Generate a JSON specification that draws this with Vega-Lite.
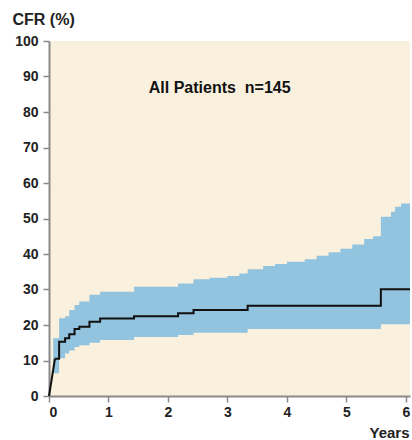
{
  "$schema": "https://vega.github.io/schema/vega-lite/v6.json",
  "width": 361,
  "height": 355,
  "autosize": "none",
  "padding": {"left": 49, "top": 41, "right": 2, "bottom": 44},
  "background": "white",
  "config": {
    "view": {"fill": "#f9f1de", "stroke": null},
    "font": "Liberation Sans"
  },
  "datasets": {
    "band": [
      {"t": 0.07, "lo": 6.4, "v": 16.3},
      {"t": 0.17, "lo": 10.6, "v": 21.9},
      {"t": 0.27, "lo": 12.0, "v": 22.5},
      {"t": 0.34, "lo": 12.8, "v": 24.2},
      {"t": 0.43, "lo": 13.8, "v": 25.6},
      {"t": 0.51, "lo": 14.3, "v": 26.6},
      {"t": 0.68, "lo": 15.0, "v": 28.5},
      {"t": 0.86, "lo": 15.8, "v": 29.4},
      {"t": 1.43, "lo": 16.6, "v": 30.8},
      {"t": 2.17, "lo": 17.2, "v": 31.7},
      {"t": 2.43, "lo": 17.8, "v": 32.9},
      {"t": 2.7, "lo": 17.8, "v": 33.3},
      {"t": 3.0, "lo": 17.8, "v": 33.8},
      {"t": 3.2, "lo": 17.8, "v": 34.5},
      {"t": 3.34, "lo": 18.9, "v": 35.7},
      {"t": 3.6, "lo": 18.9, "v": 36.6},
      {"t": 3.8, "lo": 18.9, "v": 37.2},
      {"t": 4.0, "lo": 18.9, "v": 37.8},
      {"t": 4.3, "lo": 18.9, "v": 38.5},
      {"t": 4.5, "lo": 18.9, "v": 39.5},
      {"t": 4.7, "lo": 18.9, "v": 40.5},
      {"t": 4.9, "lo": 18.9, "v": 41.5},
      {"t": 5.1, "lo": 18.9, "v": 42.7},
      {"t": 5.3, "lo": 18.9, "v": 44.2},
      {"t": 5.45, "lo": 18.9, "v": 45.0},
      {"t": 5.58, "lo": 20.2, "v": 50.5},
      {"t": 5.75, "lo": 20.2, "v": 51.9},
      {"t": 5.82, "lo": 20.2, "v": 53.3},
      {"t": 5.92, "lo": 20.2, "v": 54.2},
      {"t": 6.07, "lo": 20.2, "v": 54.2}
    ],
    "km": [
      {"t": 0.1, "v": 10.5},
      {"t": 0.17, "v": 15.3},
      {"t": 0.27, "v": 16.3},
      {"t": 0.34, "v": 17.4},
      {"t": 0.43, "v": 18.9},
      {"t": 0.51, "v": 19.5},
      {"t": 0.68, "v": 20.9},
      {"t": 0.86, "v": 21.8},
      {"t": 1.43, "v": 22.5},
      {"t": 2.17, "v": 23.3},
      {"t": 2.43, "v": 24.2},
      {"t": 3.34, "v": 25.4},
      {"t": 5.58, "v": 30.1},
      {"t": 6.07, "v": 30.1}
    ],
    "diag": [
      {"t": 0, "v": 0},
      {"t": 0.1, "v": 10.5}
    ],
    "label": [
      {"t": 2.87, "v": 86.8, "txt": "All Patients\u00a0\u00a0n=145"}
    ]
  },
  "encoding": {
    "x": {
      "field": "t", "type": "quantitative",
      "scale": {"domain": [0, 6.07], "nice": false, "zero": false},
      "axis": {
        "values": [0, 1, 2, 3, 4, 5, 6],
        "format": "d",
        "labelOverlap": false,
        "labelBound": false,
        "grid": false,
        "domainColor": "#8a8a8a",
        "domainWidth": 2,
        "tickColor": "#8a8a8a",
        "tickWidth": 1.5,
        "tickSize": 6,
        "labelFont": "Liberation Sans",
        "labelFontSize": 14,
        "labelFontWeight": "bold",
        "labelColor": "#222222",
        "labelPadding": 3,
        "title": "Years",
        "titleFont": "Liberation Sans",
        "titleFontSize": 15,
        "titleFontWeight": "bold",
        "titleColor": "#222222",
        "titleAnchor": "end",
        "titleAlign": "right",
        "titleX": 360,
        "titleY": 41,
        "titleBaseline": "alphabetic"
      }
    },
    "y": {
      "field": "v", "type": "quantitative",
      "scale": {"domain": [0, 100], "nice": false},
      "axis": {
        "values": [0, 10, 20, 30, 40, 50, 60, 70, 80, 90, 100],
        "tickCount": 11,
        "format": "d",
        "labelOverlap": false,
        "grid": false,
        "domainColor": "#8a8a8a",
        "domainWidth": 2,
        "tickColor": "#8a8a8a",
        "tickWidth": 1.5,
        "tickSize": 6,
        "labelFont": "Liberation Sans",
        "labelFontSize": 14,
        "labelFontWeight": "bold",
        "labelColor": "#222222",
        "labelPadding": 5,
        "title": "CFR (%)",
        "titleAngle": 0,
        "titleFont": "Liberation Sans",
        "titleFontSize": 16,
        "titleFontWeight": "bold",
        "titleColor": "#222222",
        "titleAlign": "left",
        "titleBaseline": "alphabetic",
        "titleX": -37,
        "titleY": -17
      }
    }
  },
  "layer": [
    {
      "data": {"name": "band"},
      "mark": {"type": "area", "interpolate": "step-after", "color": "#92c3df", "opacity": 1},
      "encoding": {
        "y2": {"field": "lo"}
      }
    },
    {
      "data": {"name": "diag"},
      "mark": {"type": "line", "color": "#111111", "strokeWidth": 2},
      "encoding": {}
    },
    {
      "data": {"name": "km"},
      "mark": {"type": "line", "interpolate": "step-after", "color": "#111111", "strokeWidth": 2},
      "encoding": {}
    },
    {
      "data": {"name": "label"},
      "mark": {"type": "text", "font": "Liberation Sans", "fontSize": 16, "fontWeight": "bold", "color": "#111111", "align": "center", "baseline": "middle"},
      "encoding": {
        "text": {"field": "txt"}
      }
    }
  ]
}
